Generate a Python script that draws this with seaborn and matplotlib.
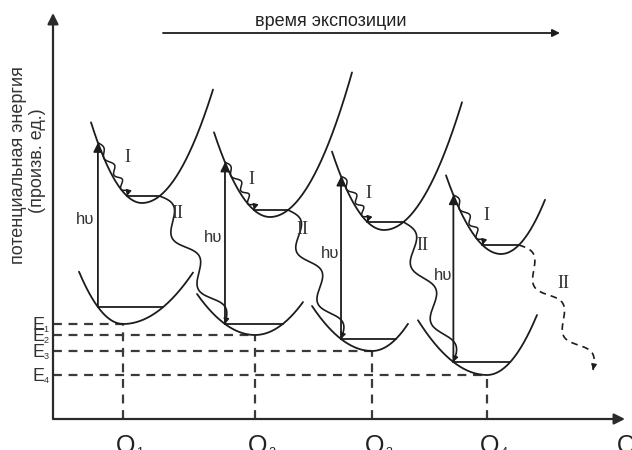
import numpy as np
import pandas as pd
import matplotlib
matplotlib.use("Agg")
import matplotlib.pyplot as plt
import seaborn as sns

sns.set_theme(style="white")
plt.rcParams["font.family"] = ["Liberation Sans", "DejaVu Sans"]

# Координаты в пикселях рисунка, ось энергии направлена вверх
ORIGIN = (53, 31)
AXIS_TOP = 437
AXIS_RIGHT = 625

# основное состояние (нижние параболы)
Q_POS = [123, 255, 372, 487]
Q_NAMES = ["1", "2", "3", "4"]
E_LOW = [126, 115, 99, 75]
LOW_KL = [0.027, 0.0122, 0.0125, 0.0115]
LOW_KR = [0.0105, 0.0143, 0.021, 0.024]
LOW_XA = [79, 197, 312, 418]
LOW_XB = [193, 303, 408, 537]
LOW_LEVEL = [143, 126, 111, 88]

# возбуждённое состояние (верхние параболы)
UP_X = [142, 270, 384, 501]
UP_E = [247, 233, 220, 196]
UP_KL = [0.031, 0.027, 0.029, 0.026]
UP_KR = [0.0225, 0.0215, 0.021, 0.028]
UP_XA = [91, 214, 332, 446]
UP_XB = [213, 352, 462, 545]
UP_LEVEL = [254, 240, 228, 205]

LAST_DECAY_END = (593, 80)

# подписи
HV_POS = [(85, 230), (213, 213), (330, 196), (443, 174)]
I_POS = [(127, 292), (251, 270), (368, 257), (486, 235)]
II_POS = [(177, 237), (302, 220), (422, 204), (563, 167)]
TIME_ARROW = (163, 560, 417)

INK = "#1c1c1c"
DASH = "#3a3a3a"


def parab(x, x0, e0, kl, kr):
    return e0 + np.where(x < x0, kl, kr) * (x - x0) ** 2


def wave(xs, ys, amp, periods, bow=0.0):
    # волнистая линия вдоль базового пути
    tx, ty = np.gradient(xs), np.gradient(ys)
    n = np.hypot(tx, ty)
    nx, ny = -ty / n, tx / n
    t = np.linspace(0, 1, len(xs))
    off = amp * np.sin(2 * np.pi * periods * t) + bow * np.sin(np.pi * t)
    return xs + off * nx, ys + off * ny


def head(ax, xs, ys, ms=9, k=4):
    ax.annotate("", xy=(xs[-1], ys[-1]), xytext=(xs[-k], ys[-k]),
                arrowprops=dict(arrowstyle="-|>", color=INK, lw=1.0,
                                mutation_scale=ms, shrinkA=0, shrinkB=0))


fig = plt.figure(figsize=(6.32, 4.5), dpi=100)
ax = fig.add_axes([0, 0, 1, 1])
ax.set_xlim(0, 632)
ax.set_ylim(0, 450)
ax.axis("off")

# оси
ax.annotate("", xy=(ORIGIN[0], AXIS_TOP), xytext=ORIGIN,
            arrowprops=dict(arrowstyle="-|>", color="#2a2a2a", lw=1.6,
                            mutation_scale=16, shrinkA=0, shrinkB=0))
ax.annotate("", xy=(AXIS_RIGHT, ORIGIN[1]), xytext=ORIGIN,
            arrowprops=dict(arrowstyle="-|>", color="#2a2a2a", lw=1.6,
                            mutation_scale=16, shrinkA=0, shrinkB=0))

# пунктир E_i и Q_i
for i in range(4):
    sns.lineplot(x=[ORIGIN[0], Q_POS[i]], y=[E_LOW[i], E_LOW[i]], ax=ax,
                 color=DASH, lw=1.6, estimator=None, sort=False)
    ax.lines[-1].set_dashes((4, 3))
    sns.lineplot(x=[Q_POS[i], Q_POS[i]], y=[ORIGIN[1], E_LOW[i]], ax=ax,
                 color=DASH, lw=1.6, estimator=None, sort=False)
    ax.lines[-1].set_dashes((4, 3))
    ax.text(38, E_LOW[i] - 6, "E", fontsize=13, color="#333",
            ha="center", va="baseline")
    ax.text(46, E_LOW[i] - 8, Q_NAMES[i], fontsize=6.5, color="#333",
            ha="center", va="baseline")
    ax.text(Q_POS[i] + 3, -3, "Q", fontsize=18, color="#222",
            ha="center", va="baseline")
    ax.text(Q_POS[i] + 17, -6, Q_NAMES[i], fontsize=9, color="#222",
            ha="center", va="baseline")
ax.text(AXIS_RIGHT + 2, -3, "Q", fontsize=18, color="#222",
        ha="center", va="baseline")

for i in range(4):
    # параболы
    xl = np.linspace(LOW_XA[i], LOW_XB[i], 200)
    sns.lineplot(x=xl, y=parab(xl, Q_POS[i], E_LOW[i], LOW_KL[i], LOW_KR[i]),
                 ax=ax, color=INK, lw=1.3, estimator=None, sort=False)
    xu = np.linspace(UP_XA[i], UP_XB[i], 200)
    sns.lineplot(x=xu, y=parab(xu, UP_X[i], UP_E[i], UP_KL[i], UP_KR[i]),
                 ax=ax, color=INK, lw=1.3, estimator=None, sort=False)

    # колебательные уровни
    lo_l = Q_POS[i] - np.sqrt((LOW_LEVEL[i] - E_LOW[i]) / LOW_KL[i])
    lo_r = Q_POS[i] + np.sqrt((LOW_LEVEL[i] - E_LOW[i]) / LOW_KR[i])
    ax.plot([lo_l, lo_r], [LOW_LEVEL[i]] * 2, color=INK, lw=1.3)
    up_l = UP_X[i] - np.sqrt((UP_LEVEL[i] - UP_E[i]) / UP_KL[i])
    up_r = UP_X[i] + np.sqrt((UP_LEVEL[i] - UP_E[i]) / UP_KR[i])
    ax.plot([up_l, up_r], [UP_LEVEL[i]] * 2, color=INK, lw=1.3)

    # возбуждение hυ
    e_top = parab(np.array(lo_l), UP_X[i], UP_E[i], UP_KL[i], UP_KR[i])
    ax.annotate("", xy=(lo_l, e_top), xytext=(lo_l, LOW_LEVEL[i]),
                arrowprops=dict(arrowstyle="-|>", color=INK, lw=1.3,
                                mutation_scale=13, shrinkA=0, shrinkB=0))
    ax.text(*HV_POS[i], "hυ", fontsize=12, color="#333",
            ha="center", va="center")

    # релаксация I
    xs = np.linspace(lo_l, up_l, 120)
    ys = parab(xs, UP_X[i], UP_E[i], UP_KL[i], UP_KR[i])
    wx, wy = wave(xs, ys, 2.8, 3.5, bow=4.5)
    ax.plot(wx, wy, color=INK, lw=1.1)
    head(ax, wx, wy, ms=8)
    ax.text(*I_POS[i], "I", fontsize=13, family="Liberation Serif",
            color="#333", ha="center", va="center")

    # переход II
    if i < 3:
        nx_ = Q_POS[i + 1] - np.sqrt((LOW_LEVEL[i + 1] - E_LOW[i + 1]) / LOW_KL[i + 1])
        end = (nx_, LOW_LEVEL[i + 1])
        style = "-"
    else:
        end = LAST_DECAY_END
        style = (0, (4, 3))
    xs = np.linspace(up_r, end[0], 200)
    ys = np.linspace(UP_LEVEL[i], end[1], 200)
    wx, wy = wave(xs, ys, 8, 2.5)
    ax.plot(wx, wy, color=INK, lw=1.2, linestyle=style)
    head(ax, wx, wy, ms=8)
    ax.text(*II_POS[i], "II", fontsize=13, family="Liberation Serif",
            color="#333", ha="center", va="center")

# время экспозиции
ax.annotate("", xy=(TIME_ARROW[1], TIME_ARROW[2]),
            xytext=(TIME_ARROW[0], TIME_ARROW[2]),
            arrowprops=dict(arrowstyle="-|>", color=INK, lw=1.3,
                            mutation_scale=11, shrinkA=0, shrinkB=0))
ax.text(331, 428, "время экспозиции", fontsize=13, color="#222",
        ha="center", va="center")

# подпись оси энергии
ax.text(19, 285, "потенциальная энергия", fontsize=13, color="#333",
        rotation=90, ha="center", va="center")
ax.text(38, 289, "(произв. ед.)", fontsize=13, color="#333",
        rotation=90, ha="center", va="center")

fig.savefig("out.png", dpi=100)
